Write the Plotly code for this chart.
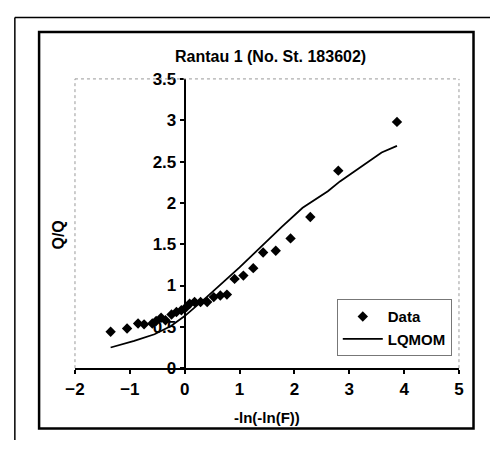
import plotly.graph_objects as go

# ---- data ----
data_x = [-1.35, -1.05, -0.85, -0.74, -0.59, -0.52, -0.43, -0.35, -0.24, -0.15, -0.06, 0.03,
          0.09, 0.18, 0.29, 0.41, 0.53, 0.65, 0.77, 0.91, 1.07, 1.25, 1.43, 1.66, 1.93, 2.29,
          2.80, 3.87]
data_y = [0.44, 0.48, 0.54, 0.53, 0.54, 0.57, 0.61, 0.58, 0.65, 0.68, 0.70, 0.74,
          0.78, 0.80, 0.80, 0.80, 0.86, 0.88, 0.89, 1.08, 1.12, 1.21, 1.40, 1.42, 1.57, 1.83,
          2.39, 2.98]

lq_x = [-1.35, -0.92, -0.55, -0.25, 0.0, 0.40, 1.0, 1.40, 1.77, 2.15, 2.61, 2.83, 3.59, 3.87]
lq_y = [0.25, 0.33, 0.41, 0.51, 0.63, 0.86, 1.22, 1.48, 1.71, 1.94, 2.14, 2.26, 2.61, 2.69]

x_ticks = [-2, -1, 0, 1, 2, 3, 4, 5]
y_ticks = [0, 0.5, 1, 1.5, 2, 2.5, 3, 3.5]
y_ticktext = ["0", "0.5", "1", "1.5", "2", "2.5", "3", "3.5"]

title = "Rantau 1 (No. St. 183602)"
x_title = "-ln(-ln(F))"
y_title = "Q/Q"

W, H = 495, 450
# plot area in pixels
L, R, T, B = 67, 463, 73, 375
xd = [L / W, R / W]
yd = [1 - B / H, 1 - T / H]
xmin, xmax = -2, 5
ypos = xd[0] + (0 - xmin) / (xmax - xmin) * (xd[1] - xd[0])

FONT = "Liberation Sans Narrow, Arial Narrow, Liberation Sans, Arial, sans-serif"
FONT2 = "Liberation Sans, Arial, sans-serif"

fig = go.Figure()
fig.add_trace(go.Scatter(x=data_x, y=data_y, mode="markers", name="Data",
                         marker=dict(symbol="diamond", size=8, color="black")))
fig.add_trace(go.Scatter(x=lq_x, y=lq_y, mode="lines", name="LQMOM",
                         line=dict(color="black", width=1.8)))

fig.update_layout(
    width=W, height=H,
    margin=dict(l=0, r=0, t=0, b=0),
    paper_bgcolor="white", plot_bgcolor="white",
    showlegend=True,
    legend=dict(x=337 / W, y=1 - 303 / H, xanchor="left", yanchor="top",
                bgcolor="white", bordercolor="#777", borderwidth=1,
                font=dict(family=FONT2, size=15, color="black", weight="bold"),
                tracegroupgap=0, itemwidth=40),
    xaxis=dict(domain=xd, range=[xmin, xmax], tickvals=x_ticks,
               showgrid=False, zeroline=False, showline=True, linecolor="black", linewidth=2,
               ticks="outside", ticklen=4, tickcolor="black", tickwidth=1.5,
               tickfont=dict(family=FONT, size=17, color="black", weight="bold"),
               anchor="y"),
    yaxis=dict(domain=yd, range=[0, 3.5], tickvals=y_ticks, ticktext=y_ticktext,
               showgrid=False, zeroline=False, showline=True, linecolor="black", linewidth=2,
               ticks="outside", ticklen=4, tickcolor="black", tickwidth=1.5,
               tickfont=dict(family=FONT, size=17, color="black", weight="bold"),
               anchor="free", position=ypos, side="left"),
    annotations=[
        dict(text="<b>" + title + "</b>", x=269 / W, y=1 - 50 / H, xref="paper", yref="paper",
             showarrow=False, font=dict(family=FONT2, size=16, color="black"),
             xanchor="center", yanchor="middle"),
        dict(text="<b>" + x_title + "</b>", x=265 / W, y=1 - 426 / H, xref="paper", yref="paper",
             showarrow=False, font=dict(family=FONT2, size=15, color="black"),
             xanchor="center", yanchor="middle"),
        dict(text="<b>" + y_title + "</b>", x=50 / W, y=1 - 236 / H, xref="paper", yref="paper",
             showarrow=False, textangle=-90, font=dict(family=FONT2, size=16, color="black"),
             xanchor="center", yanchor="middle"),
    ],
    shapes=[
        # dotted plot-area border (left, top, right)
        dict(type="line", xref="paper", yref="paper", x0=xd[0], x1=xd[0], y0=yd[0], y1=yd[1],
             line=dict(color="#999", width=1, dash="dot")),
        dict(type="line", xref="paper", yref="paper", x0=xd[0], x1=xd[1], y0=yd[1], y1=yd[1],
             line=dict(color="#999", width=1, dash="dot")),
        dict(type="line", xref="paper", yref="paper", x0=xd[1], x1=xd[1], y0=yd[0], y1=yd[1],
             line=dict(color="#999", width=1, dash="dot")),
        # chart frame
        dict(type="rect", xref="paper", yref="paper", x0=30 / W, x1=478 / W,
             y0=1 - 438 / H, y1=1 - 24 / H, line=dict(color="black", width=2.5)),
        # outer page border (left and top)
        dict(type="line", xref="paper", yref="paper", x0=5 / W, x1=5 / W, y0=0, y1=1 - 9 / H,
             line=dict(color="black", width=1.5)),
        dict(type="line", xref="paper", yref="paper", x0=5 / W, x1=1, y0=1 - 9 / H, y1=1 - 9 / H,
             line=dict(color="black", width=1.5)),
    ],
)

fig.write_html("out.html")
